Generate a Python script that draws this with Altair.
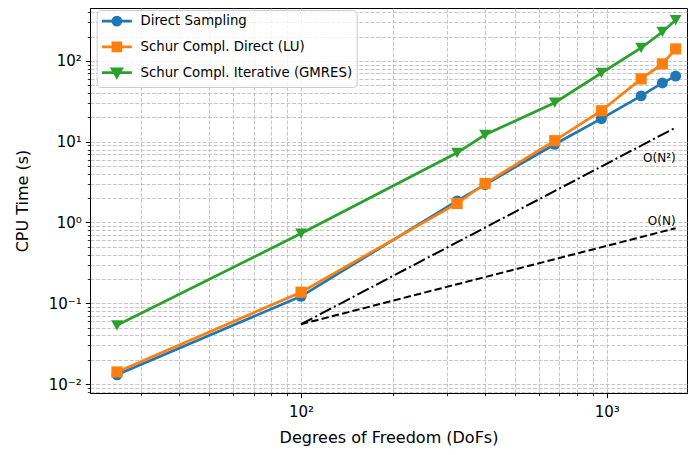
import altair as alt
import pandas as pd

# ---------------- data ----------------
dofs = [25, 100, 324, 400, 676, 961, 1296, 1521, 1681]
series_names = ["Direct Sampling", "Schur Compl. Direct (LU)", "Schur Compl. Iterative (GMRES)"]
t_direct = [0.013, 0.122, 1.85, 2.95, 9.3, 19.3, 37.0, 53.5, 65.0]
t_lu = [0.0141, 0.137, 1.72, 3.04, 10.3, 24.2, 60.0, 92.0, 141.0]
t_gmres = [0.0534, 0.73, 7.3, 12.2, 30.4, 71.0, 145.0, 229.0, 321.0]

ref_n = [100, 1681]
ref_linear = [0.055, 0.85]
ref_quad = [0.055, 15.0]

annot_text = ["O(N²)", "O(N)"]
annot_n = [1681, 1681]
annot_t = [5.65, 0.92]

x_ticks = [30, 40, 50, 60, 70, 80, 90, 100, 200, 300, 400, 500, 600, 700, 800, 900, 1000]
y_ticks = [0.008, 0.009,
           0.01, 0.02, 0.03, 0.04, 0.05, 0.06, 0.07, 0.08, 0.09,
           0.1, 0.2, 0.3, 0.4, 0.5, 0.6, 0.7, 0.8, 0.9,
           1, 2, 3, 4, 5, 6, 7, 8, 9,
           10, 20, 30, 40, 50, 60, 70, 80, 90,
           100, 200, 300, 400]

# ---------------- styles ----------------
colors = ["#1f77b4", "#ff7f0e", "#2ca02c"]
shapes = ["circle", "square", "triangle-down"]
sizes = [120, 125, 140]
# legend symbols: a line segment with the marker on it
legend_paths = [
    "M-3,0H3M0.8,0A0.8,0.8,0,1,1,-0.8,0A0.8,0.8,0,1,1,0.8,0Z",
    "M-3,0H3M-0.8,-0.8H0.8V0.8H-0.8Z",
    "M-3,0H3M-0.95,-0.75H0.95L0,0.9Z",
]
FONT = "DejaVu Sans"

df = pd.DataFrame({
    "N": dofs * 3,
    "T": t_direct + t_lu + t_gmres,
    "series": [s for s in series_names for _ in dofs],
})
ref_lin_df = pd.DataFrame({"N": ref_n, "T": ref_linear})
ref_quad_df = pd.DataFrame({"N": ref_n, "T": ref_quad})
annot_df = pd.DataFrame({"N": annot_n, "T": annot_t, "label": annot_text})

E = "round(log(datum.value)/LN10)"
is_major = f"abs(log(datum.value)/LN10 - {E}) < 1e-6"
label_expr = (f"{is_major} ? '10' + ({E} < 0 ? '⁻' : '') + "
              f"substring('⁰¹²³⁴⁵⁶⁷⁸⁹', abs({E}), abs({E}) + 1) : ''")

def make_axis(values, title, **kw):
    return alt.Axis(
        values=values, labelExpr=label_expr, title=title,
        grid=True, gridColor="#b8b8b8", gridDash=[3.9, 1.7], gridWidth=0.8,
        domainColor="black", domainWidth=1,
        tickColor="black",
        tickSize={"condition": {"test": is_major, "value": 4.7}, "value": 2.7},
        tickWidth={"condition": {"test": is_major, "value": 1.0}, "value": 0.8},
        labelFont=FONT, labelFontSize=15, labelColor="black",
        labelOverlap=False, labelFlush=False,
        titleFont=FONT, titleFontSize=16, titleFontWeight="normal", titleColor="black",
        **kw,
    )

x_enc = alt.X("N:Q",
              scale=alt.Scale(type="log", domain=[20.4, 1831], nice=False, zero=False),
              axis=make_axis(x_ticks, "Degrees of Freedom (DoFs)", labelPadding=7, titlePadding=10))
y_enc = alt.Y("T:Q",
              scale=alt.Scale(type="log", domain=[0.00774, 453], nice=False, zero=False),
              axis=make_axis(y_ticks, "CPU Time (s)", labelPadding=4, titlePadding=18))

legend = alt.Legend(
    title=None, orient="none", legendX=6.7, legendY=2,
    labelFont=FONT, labelFontSize=13.3, labelColor="black", labelLimit=400,
    symbolSize=100, symbolStrokeWidth=2.7, symbolOffset=9, labelOffset=17,
    symbolOpacity=1,
    rowPadding=5.7, padding=4.5,
    strokeColor="#cccccc", fillColor="rgba(255,255,255,0.8)", cornerRadius=4,
)
color_scale = alt.Scale(domain=series_names, range=colors)
path_scale = alt.Scale(domain=series_names, range=legend_paths)

layers = []
for i, s in enumerate(series_names):
    base = alt.Chart(df).transform_filter(alt.datum.series == s)
    layers.append(base.mark_line(strokeWidth=2.7, color=colors[i]).encode(x=x_enc, y=y_enc))
    layers.append(
        base.mark_point(filled=True, opacity=1, size=sizes[i], strokeWidth=0,
                        shape=shapes[i], color=colors[i]).encode(x=x_enc, y=y_enc)
    )

# a layer that draws nothing and only carries the legend
legend_layer = alt.Chart(df).transform_filter("false").mark_point(opacity=1, strokeWidth=2.7).encode(
    x=x_enc, y=y_enc,
    fill=alt.Fill("series:N", scale=color_scale, legend=legend),
    stroke=alt.Stroke("series:N", scale=color_scale, legend=legend),
    shape=alt.Shape("series:N", scale=path_scale, legend=legend),
)

lin = alt.Chart(ref_lin_df).mark_line(color="black", strokeWidth=2, strokeDash=[7.4, 3.2]).encode(x=x_enc, y=y_enc)
quad = alt.Chart(ref_quad_df).mark_line(color="black", strokeWidth=2, strokeDash=[12.8, 3.2, 2, 3.2]).encode(x=x_enc, y=y_enc)
txt = alt.Chart(annot_df).mark_text(align="right", baseline="alphabetic", font=FONT, fontSize=12, color="black").encode(
    x=x_enc, y=y_enc, text="label:N")

chart = alt.layer(*layers, quad, lin, txt, legend_layer).properties(
    width=597, height=385,
    autosize=alt.AutoSizeParams(type="none"),
    padding={"left": 82, "top": 0, "right": 1, "bottom": 54},
).configure_view(stroke="black", strokeWidth=1)

chart.save("out.html", embed_options={"renderer": "svg", "actions": False})
